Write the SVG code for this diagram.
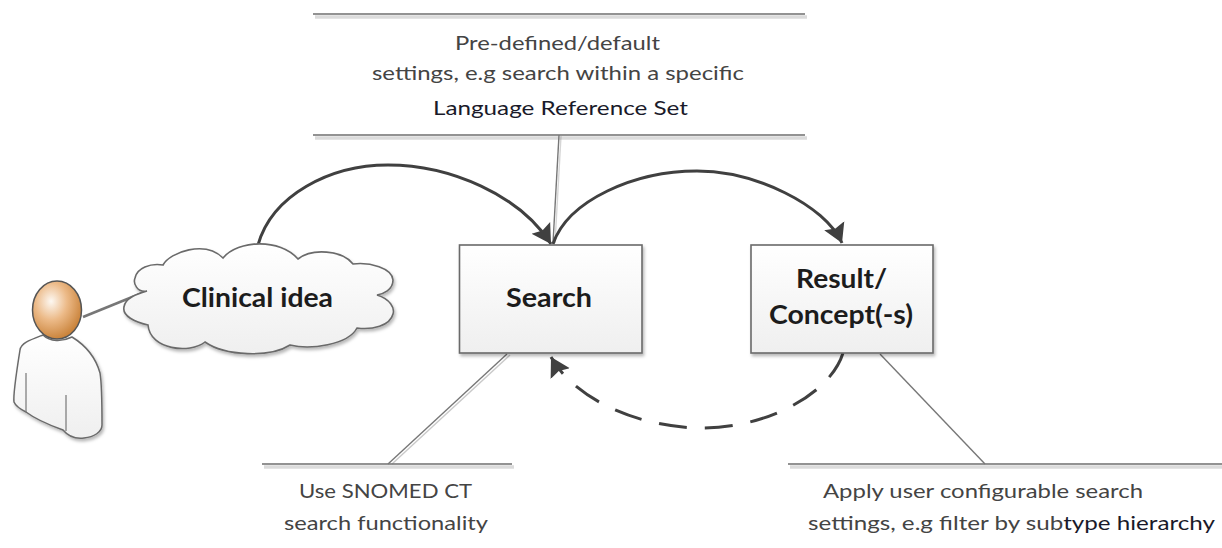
<svg xmlns="http://www.w3.org/2000/svg" width="1222" height="548" viewBox="0 0 1222 548">
<style>
text{font-family:Lato,"Carlito","Open Sans",sans-serif;fill:#444;font-size:20px}
.b{font-weight:700;fill:#1c1c1c;font-size:26px}
.node{fill:url(#g);stroke:#6a6a6a;stroke-width:1.6;filter:url(#s)}
.rule{stroke:#6e6e6e;stroke-width:1.6;fill:none}
.shade{stroke:#000;stroke-opacity:0.14;stroke-width:3.5;fill:none}
.arc{fill:none;stroke:#404040;stroke-width:3}
.lead{fill:none;stroke:#777;stroke-width:1.4}
</style>
<defs>
<linearGradient id="g" x1="0" y1="0" x2="0" y2="1"><stop offset="0" stop-color="#fff"/><stop offset="1" stop-color="#efefef"/></linearGradient>
<radialGradient id="h" cx="0.38" cy="0.35" r="0.72"><stop offset="0" stop-color="#fdf8f2"/><stop offset="0.45" stop-color="#ecba88"/><stop offset="1" stop-color="#c47a2e"/></radialGradient>
<filter id="s" x="-10%" y="-20%" width="125%" height="140%"><feDropShadow dx="1.5" dy="2.5" stdDeviation="1.5" flood-color="#000" flood-opacity="0.28"/></filter>
<marker id="a" markerUnits="userSpaceOnUse" markerWidth="24" markerHeight="24" refX="19" refY="12" orient="auto"><path d="M0 1L19 12L0 23L3 12Z" fill="#404040"/></marker>
</defs>
<g id="rules">
<path class="shade" d="M315 17H807M315 138H807M264 467H514M790 467H1222"/>
<path class="rule" d="M313 14H805"/>
<path class="rule" d="M313 135H805"/>
<path class="rule" d="M262 464H512"/>
<path class="rule" d="M788 464H1222"/>
</g>
<g id="connectors">
<path class="lead" d="M559 135L553 243"/>
<path class="lead" d="M561 136L555 243" stroke-opacity="0.3"/>
<path class="lead" d="M507 354L388 464"/>
<path class="lead" d="M510 355L392 464" stroke-opacity="0.4"/>
<path class="lead" d="M880 354L985 464"/>
<path d="M83 317L147 291" fill="none" stroke="#777" stroke-width="2.6"/>
<path class="arc" d="M258 245C272 195 330 165 388 165C450 165 520 195 551 244" marker-end="url(#a)"/>
<path class="arc" d="M553 244C568 200 635 171 697 171C755 171 825 205 842 243" marker-end="url(#a)"/>
<path class="arc" d="M843 353C830 395 765 428 703 428C640 428 575 400 551 357" stroke-dasharray="28 18" marker-end="url(#a)"/>
</g>
<g id="search"><rect class="node" x="459.500" y="245" width="182.500" height="108"/><text class="b" x="506" y="307" textLength="86" lengthAdjust="spacingAndGlyphs">Search</text></g>
<g id="result"><rect class="node" x="751" y="245" width="182" height="108"/><text class="b" x="796" y="288" textLength="91" lengthAdjust="spacingAndGlyphs">Result/</text><text class="b" x="769" y="324" textLength="144" lengthAdjust="spacingAndGlyphs">Concept(-s)</text></g>
<g id="cloud">
<path class="node" d="M147 291C137 293 133 283 135 278C137 268 150 263 163 265C170 252 205 240 223 258C238 240 280 238 298 259C312 248 342 250 353 264C370 262 392 268 393 280C393 290 383 294 377 295C390 299 395 308 393 314C390 326 372 330 357 328C348 345 310 350 290 345C270 358 225 356 205 342C190 354 150 350 148 325C135 322 122 316 124 307C125 298 137 294 147 291Z"/>
<text class="b" x="182" y="307" textLength="151" lengthAdjust="spacingAndGlyphs">Clinical idea</text>
</g>
<g id="user">
<path d="M43 335C30 340 21 343 20 350C16 375 13 395 14 402C16 407 22 410 26 412C38 421 52 426 63 430C68 436 76 439 84 438C94 437 102 432 102 425C102 405 102 385 100 373C95 355 85 345 72 337C62 342 50 342 43 335Z" fill="url(#g)" stroke="#6a6a6a" stroke-width="1.500" filter="url(#s)"/>
<path d="M26 373V412M66 395V431" fill="none" stroke="#777" stroke-width="1.200"/>
<ellipse cx="57" cy="310" rx="24.500" ry="29" fill="url(#h)" stroke="#555" stroke-width="1.500"/>
</g>
<g id="labels">
<text x="455" y="50" textLength="205" lengthAdjust="spacingAndGlyphs">Pre-defined/default</text>
<text x="372" y="80" textLength="372" lengthAdjust="spacingAndGlyphs">settings, e.g search within a specific</text>
<text x="433" y="115" textLength="255" lengthAdjust="spacingAndGlyphs" style="fill:#1a1a2a">Language Reference Set</text>
<text x="299" y="498" textLength="173" lengthAdjust="spacingAndGlyphs">Use SNOMED CT</text>
<text x="284" y="530" textLength="204" lengthAdjust="spacingAndGlyphs">search functionality</text>
<text x="823" y="498" textLength="320" lengthAdjust="spacingAndGlyphs">Apply user configurable search</text>
<text x="808" y="530" textLength="407" lengthAdjust="spacingAndGlyphs">settings, e.g filter by sub<tspan style="fill:#1a1a2a">type hierarchy</tspan></text>
</g>
</svg>
